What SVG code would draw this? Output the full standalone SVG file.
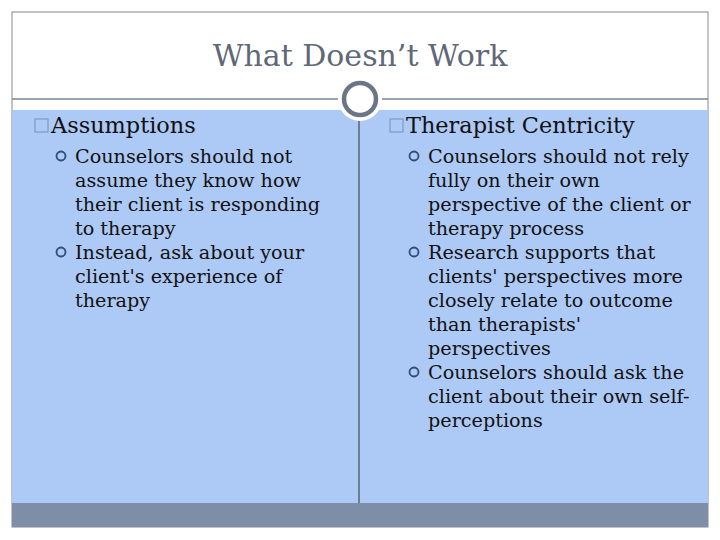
<svg xmlns="http://www.w3.org/2000/svg" width="720" height="540" viewBox="0 0 720 540">
<style>
text{font-family:"DejaVu Serif","Liberation Serif",serif;fill:#111}
.h{font-size:22.4px}
.b{font-size:19.2px}
.sq{fill:none;stroke:#7f9bc4;stroke-width:1.2}
.dot{fill:none;stroke:#2c4a7a;stroke-width:1.8}
</style>
<rect x="0" y="0" width="720" height="540" fill="#fff"/>
<rect x="12" y="12" width="696" height="515" fill="none" stroke="#888" stroke-width="1"/>
<g id="bg">
<rect x="12" y="110" width="696" height="393" fill="#adc9f5"/>
<rect x="12" y="503" width="696" height="24" fill="#7f8ea8"/>
<line x1="12" y1="99" x2="708" y2="99" stroke="#7a8496" stroke-width="1.5"/>
<line x1="359" y1="118" x2="359" y2="503" stroke="#333" stroke-width="1"/>
<circle cx="360" cy="99" r="22" fill="#fff"/>
<circle cx="360" cy="99" r="16" fill="#fff" stroke="#6b7585" stroke-width="4.5"/>
</g>
<text x="360" y="66" text-anchor="middle" style="font-size:30px;fill:#5f6878">What Doesn’t Work</text>
<g id="left">
<rect class="sq" x="35" y="119" width="13" height="13"/>
<text class="h" x="51" y="133">Assumptions</text>
<circle class="dot" cx="61" cy="156" r="4.5"/>
<text class="b" x="75" y="163">Counselors should not</text>
<text class="b" x="75" y="187">assume they know how</text>
<text class="b" x="75" y="211">their client is responding</text>
<text class="b" x="75" y="235">to therapy</text>
<circle class="dot" cx="61" cy="252" r="4.5"/>
<text class="b" x="75" y="259">Instead, ask about your</text>
<text class="b" x="75" y="283">client's experience of</text>
<text class="b" x="75" y="307">therapy</text>
</g>
<g id="right">
<rect class="sq" x="390" y="119" width="13" height="13"/>
<text class="h" x="406" y="133">Therapist Centricity</text>
<circle class="dot" cx="414" cy="156" r="4.5"/>
<text class="b" x="428" y="163">Counselors should not rely</text>
<text class="b" x="428" y="187">fully on their own</text>
<text class="b" x="428" y="211">perspective of the client or</text>
<text class="b" x="428" y="235">therapy process</text>
<circle class="dot" cx="414" cy="252" r="4.5"/>
<text class="b" x="428" y="259">Research supports that</text>
<text class="b" x="428" y="283">clients' perspectives more</text>
<text class="b" x="428" y="307">closely relate to outcome</text>
<text class="b" x="428" y="331">than therapists'</text>
<text class="b" x="428" y="355">perspectives</text>
<circle class="dot" cx="414" cy="372" r="4.5"/>
<text class="b" x="428" y="379">Counselors should ask the</text>
<text class="b" x="428" y="403">client about their own self-</text>
<text class="b" x="428" y="427">perceptions</text>
</g>
</svg>
